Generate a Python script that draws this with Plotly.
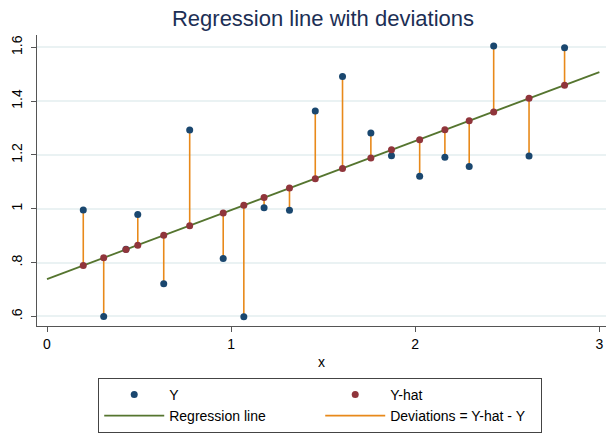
import plotly.graph_objects as go

x_vals = [0.197, 0.308, 0.429, 0.493, 0.634, 0.775, 0.957, 1.069, 1.179, 1.317,
          1.457, 1.605, 1.759, 1.871, 2.024, 2.161, 2.293, 2.426, 2.618, 2.811]
y_vals = [0.996, 0.600, 0.850, 0.979, 0.722, 1.293, 0.815, 0.599, 1.004, 0.995,
          1.363, 1.492, 1.282, 1.197, 1.121, 1.192, 1.157, 1.605, 1.196, 1.598]
yhat_vals = [0.789, 0.818, 0.849, 0.865, 0.902, 0.937, 0.984, 1.013, 1.042, 1.077,
             1.112, 1.150, 1.189, 1.219, 1.257, 1.294, 1.327, 1.360, 1.411, 1.459]
line_x = [0.0, 3.0]
line_y = [0.739, 1.508]
x_ticks = [0, 1, 2, 3]
y_ticks = [0.6, 0.8, 1.0, 1.2, 1.4, 1.6]
y_ticklabels = [".6", ".8", "1", "1.2", "1.4", "1.6"]

NAVY = "#1a476f"
MAROON = "#90353b"
GREEN = "#55752f"
ORANGE = "#e8891a"
FONT = "Liberation Sans, Arial, sans-serif"

fig = go.Figure()

# deviations as a single trace with gaps
dev_x, dev_y = [], []
for xi, yi, yh in zip(x_vals, y_vals, yhat_vals):
    dev_x += [xi, xi, None]
    dev_y += [yh, yi, None]

fig.add_trace(go.Scatter(x=line_x, y=line_y, mode="lines", name="Regression line",
                         line=dict(color=GREEN, width=1.8), legendrank=3))
fig.add_trace(go.Scatter(x=dev_x, y=dev_y, mode="lines", name="Deviations = Y-hat - Y",
                         line=dict(color=ORANGE, width=1.6), legendrank=4))
fig.add_trace(go.Scatter(x=x_vals, y=y_vals, mode="markers", name="Y",
                         marker=dict(color=NAVY, size=7), legendrank=1))
fig.add_trace(go.Scatter(x=x_vals, y=yhat_vals, mode="markers", name="Y-hat",
                         marker=dict(color=MAROON, size=7), legendrank=2))

fig.update_layout(
    width=606, height=433,
    margin=dict(l=37, r=0, t=35, b=104),
    paper_bgcolor="white", plot_bgcolor="white",
    font=dict(family=FONT, size=14, color="#000000"),
    title=dict(text="Regression line with deviations", x=0.533, xanchor="center",
               y=0.957, yanchor="middle",
               font=dict(family=FONT, size=22, color="#1c2f55")),
    showlegend=True,
    legend=dict(orientation="h", x=0.1076, xanchor="left", y=-0.178, yanchor="top",
                entrywidth=146, entrywidthmode="pixels", itemwidth=60,
                bordercolor="#444444", borderwidth=1, bgcolor="white",
                font=dict(family=FONT, size=14, color="#000000"),
                tracegroupgap=0, traceorder="normal"),
    xaxis=dict(range=[-0.0543, 3.036], tickvals=x_ticks, ticktext=[str(t) for t in x_ticks],
               automargin=False,
               showgrid=False, zeroline=False, showline=True, linecolor="#555555", linewidth=1.2,
               ticks="outside", ticklen=5, tickcolor="#555555", tickwidth=1,
               ticklabelstandoff=0,
               tickfont=dict(size=14), title=dict(text="x", font=dict(size=14), standoff=6)),
    yaxis=dict(range=[0.5646, 1.6458], tickvals=y_ticks, ticktext=y_ticklabels,
               automargin=False,
               showgrid=True, gridcolor="#eaf2f3", gridwidth=1.5, zeroline=False,
               showline=True, linecolor="#555555", linewidth=1.2,
               ticks="outside", ticklen=5, tickcolor="#555555", tickwidth=1,
               ticklabelstandoff=3,
               tickangle=-90, tickfont=dict(size=14)),
)

fig.write_html("out.html", config={"displayModeBar": False},
               post_script="document.body.style.margin='0px';")
